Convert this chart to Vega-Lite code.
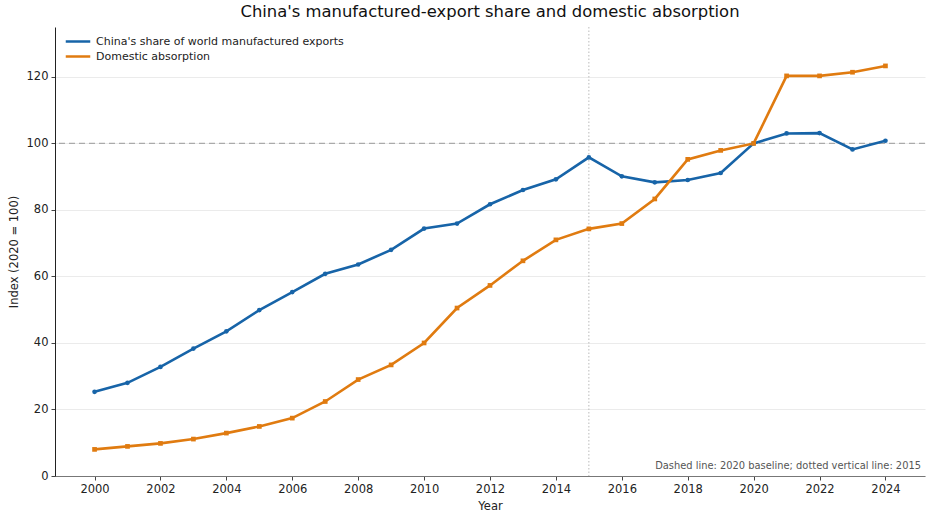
{
  "$schema": "https://vega.github.io/schema/vega-lite/v6.json",
  "description": "China's manufactured-export share and domestic absorption, index 2020 = 100",
  "width": 870,
  "height": 449,
  "autosize": {"type": "none"},
  "padding": {"left": 55, "top": 27, "right": 10, "bottom": 44},
  "background": "white",
  "title": {
    "text": "China's manufactured-export share and domestic absorption",
    "fontSize": 16.4,
    "fontWeight": "normal",
    "font": "DejaVu Sans",
    "color": "#111111",
    "anchor": "middle",
    "offset": 6
  },
  "datasets": {
    "series": [
      {"Year": 2000, "series": "China's share of world manufactured exports", "value": 25.3},
      {"Year": 2001, "series": "China's share of world manufactured exports", "value": 28.0},
      {"Year": 2002, "series": "China's share of world manufactured exports", "value": 32.8},
      {"Year": 2003, "series": "China's share of world manufactured exports", "value": 38.3},
      {"Year": 2004, "series": "China's share of world manufactured exports", "value": 43.5},
      {"Year": 2005, "series": "China's share of world manufactured exports", "value": 49.9},
      {"Year": 2006, "series": "China's share of world manufactured exports", "value": 55.3},
      {"Year": 2007, "series": "China's share of world manufactured exports", "value": 60.8},
      {"Year": 2008, "series": "China's share of world manufactured exports", "value": 63.6},
      {"Year": 2009, "series": "China's share of world manufactured exports", "value": 68.0},
      {"Year": 2010, "series": "China's share of world manufactured exports", "value": 74.4},
      {"Year": 2011, "series": "China's share of world manufactured exports", "value": 75.9},
      {"Year": 2012, "series": "China's share of world manufactured exports", "value": 81.7},
      {"Year": 2013, "series": "China's share of world manufactured exports", "value": 86.0},
      {"Year": 2014, "series": "China's share of world manufactured exports", "value": 89.2},
      {"Year": 2015, "series": "China's share of world manufactured exports", "value": 95.8},
      {"Year": 2016, "series": "China's share of world manufactured exports", "value": 90.1},
      {"Year": 2017, "series": "China's share of world manufactured exports", "value": 88.3},
      {"Year": 2018, "series": "China's share of world manufactured exports", "value": 89.0},
      {"Year": 2019, "series": "China's share of world manufactured exports", "value": 91.1},
      {"Year": 2020, "series": "China's share of world manufactured exports", "value": 100.0},
      {"Year": 2021, "series": "China's share of world manufactured exports", "value": 103.0},
      {"Year": 2022, "series": "China's share of world manufactured exports", "value": 103.1},
      {"Year": 2023, "series": "China's share of world manufactured exports", "value": 98.2},
      {"Year": 2024, "series": "China's share of world manufactured exports", "value": 100.8},
      {"Year": 2000, "series": "Domestic absorption", "value": 8.0},
      {"Year": 2001, "series": "Domestic absorption", "value": 8.9},
      {"Year": 2002, "series": "Domestic absorption", "value": 9.8},
      {"Year": 2003, "series": "Domestic absorption", "value": 11.1},
      {"Year": 2004, "series": "Domestic absorption", "value": 12.9},
      {"Year": 2005, "series": "Domestic absorption", "value": 14.9},
      {"Year": 2006, "series": "Domestic absorption", "value": 17.4},
      {"Year": 2007, "series": "Domestic absorption", "value": 22.4},
      {"Year": 2008, "series": "Domestic absorption", "value": 29.0},
      {"Year": 2009, "series": "Domestic absorption", "value": 33.4},
      {"Year": 2010, "series": "Domestic absorption", "value": 40.0},
      {"Year": 2011, "series": "Domestic absorption", "value": 50.5},
      {"Year": 2012, "series": "Domestic absorption", "value": 57.3},
      {"Year": 2013, "series": "Domestic absorption", "value": 64.7},
      {"Year": 2014, "series": "Domestic absorption", "value": 71.0},
      {"Year": 2015, "series": "Domestic absorption", "value": 74.3},
      {"Year": 2016, "series": "Domestic absorption", "value": 75.9},
      {"Year": 2017, "series": "Domestic absorption", "value": 83.3},
      {"Year": 2018, "series": "Domestic absorption", "value": 95.2},
      {"Year": 2019, "series": "Domestic absorption", "value": 97.9},
      {"Year": 2020, "series": "Domestic absorption", "value": 100.0},
      {"Year": 2021, "series": "Domestic absorption", "value": 120.3},
      {"Year": 2022, "series": "Domestic absorption", "value": 120.3},
      {"Year": 2023, "series": "Domestic absorption", "value": 121.4},
      {"Year": 2024, "series": "Domestic absorption", "value": 123.3}
    ]
  },
  "layer": [
    {
      "data": {"values": [{"baseline": 100}]},
      "mark": {"type": "rule", "color": "#aaaaaa", "strokeWidth": 1.3, "strokeDash": [6, 4]},
      "encoding": {"y": {"field": "baseline", "type": "quantitative"}}
    },
    {
      "data": {"values": [{"marker": 2015}]},
      "mark": {"type": "rule", "color": "#bbbbbb", "strokeWidth": 1, "strokeDash": [1.5, 2]},
      "encoding": {"x": {"field": "marker", "type": "quantitative"}}
    },
    {
      "data": {"name": "series"},
      "mark": {"type": "line", "strokeWidth": 2.6},
      "encoding": {
        "x": {
          "field": "Year",
          "type": "quantitative",
          "title": "Year",
          "scale": {"domain": [1998.8, 2025.2], "nice": false, "zero": false},
          "axis": {
            "values": [2000, 2002, 2004, 2006, 2008, 2010, 2012, 2014, 2016, 2018, 2020, 2022, 2024],
            "format": "d",
            "grid": false
          }
        },
        "y": {
          "field": "value",
          "type": "quantitative",
          "title": "Index (2020 = 100)",
          "scale": {"domain": [0, 135], "nice": false},
          "axis": {"values": [0, 20, 40, 60, 80, 100, 120]}
        },
        "color": {
          "field": "series",
          "type": "nominal",
          "scale": {
            "domain": ["China's share of world manufactured exports", "Domestic absorption"],
            "range": ["#1764a8", "#e07b10"]
          },
          "legend": {
            "title": null,
            "orient": "none",
            "legendX": 9,
            "legendY": 7,
            "symbolType": "stroke",
            "symbolSize": 600,
            "symbolStrokeWidth": 2.6,
            "clipHeight": 15,
            "labelFontSize": 11,
            "labelFont": "DejaVu Sans",
            "labelColor": "#222222",
            "labelLimit": 0,
            "labelOffset": 4,
            "rowPadding": 0
          }
        }
      }
    },
    {
      "data": {"name": "series"},
      "transform": [{"filter": "datum.series === \"China's share of world manufactured exports\""}],
      "mark": {"type": "point", "shape": "circle", "filled": true, "opacity": 1, "size": 22},
      "encoding": {
        "x": {"field": "Year", "type": "quantitative"},
        "y": {"field": "value", "type": "quantitative"},
        "color": {"field": "series", "type": "nominal", "legend": null}
      }
    },
    {
      "data": {"name": "series"},
      "transform": [{"filter": "datum.series === 'Domestic absorption'"}],
      "mark": {"type": "point", "shape": "square", "filled": true, "opacity": 1, "size": 22},
      "encoding": {
        "x": {"field": "Year", "type": "quantitative"},
        "y": {"field": "value", "type": "quantitative"},
        "color": {"field": "series", "type": "nominal", "legend": null}
      }
    },
    {
      "data": {"values": [{"x": 2025.2, "y": 0, "note": "Dashed line: 2020 baseline; dotted vertical line: 2015"}]},
      "mark": {
        "type": "text",
        "align": "right",
        "baseline": "bottom",
        "fontSize": 9.9,
        "font": "DejaVu Sans",
        "color": "#555555",
        "dx": -4,
        "dy": -5
      },
      "encoding": {
        "x": {"field": "x", "type": "quantitative"},
        "y": {"field": "y", "type": "quantitative"},
        "text": {"field": "note"}
      }
    }
  ],
  "config": {
    "view": {"stroke": null},
    "font": "DejaVu Sans",
    "axis": {
      "labelFont": "DejaVu Sans",
      "titleFont": "DejaVu Sans",
      "labelFontSize": 11.5,
      "titleFontSize": 11.5,
      "titleFontWeight": "normal",
      "labelColor": "#222222",
      "titleColor": "#222222",
      "tickColor": "#444444",
      "tickSize": 4,
      "labelPadding": 3
    },
    "axisY": {
      "domainColor": "#222222",
      "gridColor": "#ebebeb",
      "gridWidth": 1,
      "titlePadding": 7
    },
    "axisX": {
      "domainColor": "#777777",
      "domainWidth": 1.2,
      "titlePadding": 6
    }
  }
}
